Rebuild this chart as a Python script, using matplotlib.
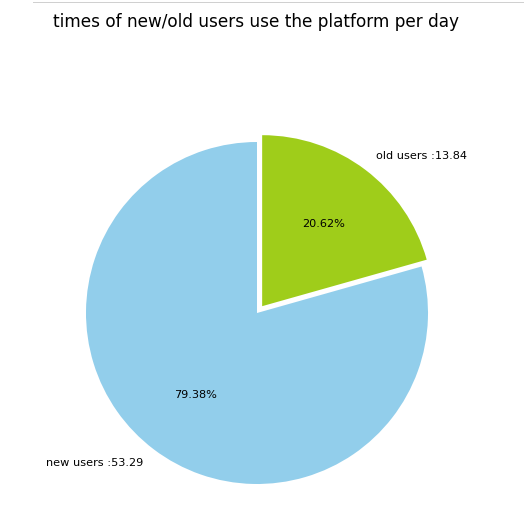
import matplotlib.pyplot as plt
from matplotlib.lines import Line2D

labels = ['new users :53.29', 'old users :13.84']
values = [53.29, 13.84]
colors = ['#92CEEB', '#9FCD1A']
explode = [0, 0.05]

W, H = 524, 517
fig = plt.figure(figsize=(W / 72, H / 72), dpi=72)

# pie centre about (257, 313) px, radius about 171 px
r = 171
cx, cy = 257, H - 313
lim = 1.5
ax = fig.add_axes([(cx - lim * r) / W, (cy - lim * r) / H, 2 * lim * r / W, 2 * lim * r / H])
ax.pie(values, labels=labels, colors=colors, explode=explode,
       autopct='%1.2f%%', startangle=90, textprops={'fontsize': 11.25})
ax.set_xlim(-lim, lim)
ax.set_ylim(-lim, lim)
ax.set_aspect('equal')

fig.text(53 / W, 1 - 22 / H, 'times of new/old users use the platform per day',
         fontsize=16.9, ha='left', va='center')

# thin grey rule at the top edge
fig.add_artist(Line2D([33 / W, 1], [1 - 1.5 / H, 1 - 1.5 / H], color='#d0d0d0', lw=1))

fig.savefig('out.png', dpi=72)
